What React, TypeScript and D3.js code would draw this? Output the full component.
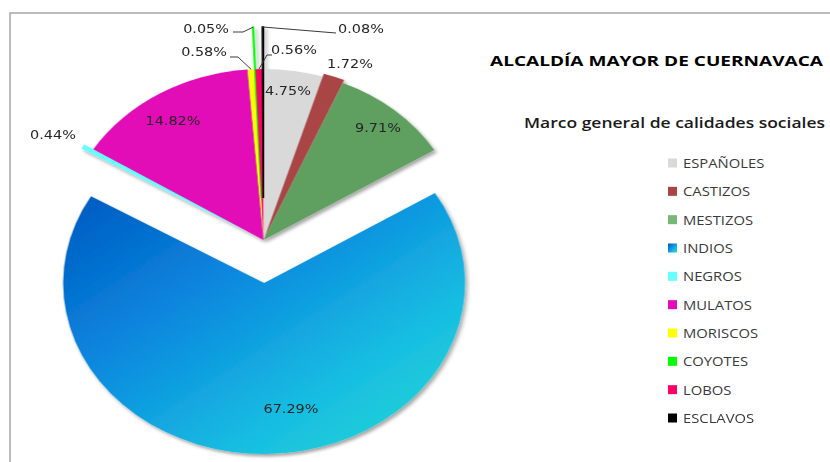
import React from 'react'
import * as d3 from 'd3'

// Chart data
const categories = ['ESPAÑOLES', 'CASTIZOS', 'MESTIZOS', 'INDIOS', 'NEGROS', 'MULATOS', 'MORISCOS', 'COYOTES', 'LOBOS', 'ESCLAVOS']
const values = [4.75, 1.72, 9.71, 67.29, 0.44, 14.82, 0.58, 0.05, 0.56, 0.08]
const colors = ['#d9d9d9', '#a94545', '#5f9f5f', 'url(#indiosGrad)', '#66ffff', '#e20db6', '#ffff00', '#00ff00', '#ff0066', '#000000']
const legendColors = ['#d9d9d9', '#a94545', '#77b877', 'url(#indiosGrad)', '#66ffff', '#e20db6', '#ffff00', '#00ff00', '#ff0066', '#000000']
const explode = [0, 3, 0, 43, 9, 0, 0, 42, 0, 42]

// where Excel put each data label (text anchor point + leader elbows)
const labelLayout = [
    { x: 288, y: 91, anchor: 'middle' },
    { x: 350, y: 64, anchor: 'middle' },
    { x: 378, y: 128, anchor: 'middle' },
    { x: 291, y: 409, anchor: 'middle' },
    { x: 53, y: 135, anchor: 'middle' },
    { x: 173, y: 121, anchor: 'middle' },
    { x: 227, y: 52, anchor: 'end', elbow: [[238, 57], [230, 57]] },
    { x: 229, y: 29, anchor: 'end', elbow: [[243, 32], [233, 32]] },
    { x: 271, y: 50, anchor: 'start', elbow: [[267, 55], [272, 55]] },
    { x: 338, y: 29, anchor: 'start', elbow: [[336, 33]] },
]

const cx = 263.5
const cy = 240
const radius = 171
const sx = 1.175

function App() {
    const pie = d3.pie<number>().sort(null).value(d => d)
    const arcs = pie(values)
    const arc = d3.arc<d3.PieArcDatum<number>>().innerRadius(0).outerRadius(radius)

    const midAngle = (a: d3.PieArcDatum<number>) => (a.startAngle + a.endAngle) / 2

    const tip = (a: d3.PieArcDatum<number>, i: number) => {
        const m = midAngle(a)
        const r = radius + explode[i]
        return [cx + Math.sin(m) * r * sx, cy - Math.cos(m) * r]
    }

    const legendY = d3.scaleLinear().domain([0, categories.length - 1]).range([163, 418])

    return (
        <svg width={830} height={462} style={{ position: 'fixed', left: 0, top: 0, background: '#fff' }}>
            <defs>
                <linearGradient id="indiosGrad" x1="0" y1="0" x2="1" y2="1">
                    <stop offset="0" stopColor="#0058bf" />
                    <stop offset="0.35" stopColor="#0a86de" />
                    <stop offset="0.7" stopColor="#18bde2" />
                    <stop offset="1" stopColor="#25dccf" />
                </linearGradient>
                <filter id="shadow" x="-10%" y="-10%" width="130%" height="130%">
                    <feDropShadow dx="2" dy="2.5" stdDeviation="1.8" floodColor="#000" floodOpacity="0.35" />
                </filter>
            </defs>

            {/* chart area frame */}
            <path d="M10,462 L10,13 L830,13" fill="none" stroke="#a6a6a6" strokeWidth={1.5} />

            <g transform={`translate(${cx},${cy}) scale(${sx},1)`} filter="url(#shadow)">
                {arcs.map((a, i) => {
                    const m = midAngle(a)
                    const dx = Math.sin(m) * explode[i]
                    const dy = -Math.cos(m) * explode[i]
                    const tiny = values[i] < 0.1
                    return (
                        <path
                            key={categories[i]}
                            d={arc(a) || ''}
                            transform={`translate(${dx},${dy})`}
                            fill={colors[i]}
                            stroke={tiny ? colors[i] : 'none'}
                            strokeWidth={tiny ? 1.4 : 0}
                        />
                    )
                })}
            </g>

            {/* leader lines */}
            {arcs.map((a, i) => {
                const l = labelLayout[i]
                if (!l.elbow) return null
                const pts = [tip(a, i), ...l.elbow]
                return (
                    <polyline
                        key={'ld' + i}
                        points={pts.map(p => p.join(',')).join(' ')}
                        fill="none"
                        stroke="#3a3a3a"
                        strokeWidth={1}
                    />
                )
            })}

            {/* data labels */}
            {arcs.map((a, i) => {
                const l = labelLayout[i]
                return (
                    <text
                        key={'lb' + i}
                        transform={`translate(${l.x},${l.y}) scale(${sx},1)`}
                        textAnchor={l.anchor}
                        dominantBaseline="central"
                        fontFamily="DejaVu Sans, Verdana, sans-serif"
                        fontSize={12.3}
                        fill="#262626"
                    >
                        {values[i].toFixed(2) + '%'}
                    </text>
                )
            })}

            {/* titles */}
            <text x={490} y={66} fontFamily="Open Sans, sans-serif" fontWeight={700} fontSize={14.5}
                textLength={333} lengthAdjust="spacingAndGlyphs" fill="#000">
                ALCALDÍA MAYOR DE CUERNAVACA
            </text>
            <text x={524} y={128} fontFamily="Open Sans, sans-serif" fontWeight={600} fontSize={14.5}
                textLength={301} lengthAdjust="spacingAndGlyphs" fill="#1a1a1a">
                Marco general de calidades sociales
            </text>

            {/* legend */}
            {categories.map((c, i) => (
                <g key={'lg' + c} transform={`translate(668,${legendY(i)})`}>
                    <rect x={0} y={-4.5} width={9} height={9} fill={legendColors[i]} />
                    <text
                        transform={`translate(15,0) scale(${sx},1)`}
                        dominantBaseline="central"
                        fontFamily="Open Sans, sans-serif"
                        fontSize={12.6}
                        fill="#3a3a3a"
                    >
                        {c}
                    </text>
                </g>
            ))}
        </svg>
    )
}

export default App
